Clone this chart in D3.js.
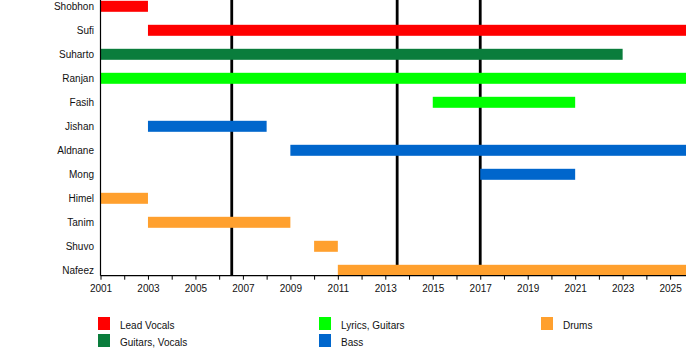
<!DOCTYPE html>
<html><head><meta charset="utf-8">
<script src="https://cdn.jsdelivr.net/npm/d3@7"></script>
<style>body{margin:0;background:#fff}svg{display:block;font-family:"Liberation Sans",Arial,sans-serif}</style>
</head><body><svg id="c" width="700" height="355"></svg>
<script>
const members = ["Shobhon","Sufi","Suharto","Ranjan","Fasih","Jishan","Aldnane","Mong","Himel","Tanim","Shuvo","Nafeez"];
const roles = ["Lead Vocals","Guitars, Vocals","Lyrics, Guitars","Bass","Drums"];
const roleColors = ["#ff0000","#0a7d3c","#00ff00","#0066cc","#ffa02e"];
const spans = [
  {member:"Shobhon", role:"Lead Vocals", start:2001, end:2003},
  {member:"Sufi", role:"Lead Vocals", start:2003, end:2025.67},
  {member:"Suharto", role:"Guitars, Vocals", start:2001, end:2023},
  {member:"Ranjan", role:"Lyrics, Guitars", start:2001, end:2025.67},
  {member:"Fasih", role:"Lyrics, Guitars", start:2015, end:2021},
  {member:"Jishan", role:"Bass", start:2003, end:2008},
  {member:"Aldnane", role:"Bass", start:2009, end:2025.67},
  {member:"Mong", role:"Bass", start:2017, end:2021},
  {member:"Himel", role:"Drums", start:2001, end:2003},
  {member:"Tanim", role:"Drums", start:2003, end:2009},
  {member:"Shuvo", role:"Drums", start:2010, end:2011},
  {member:"Nafeez", role:"Drums", start:2011, end:2025.67}
];
const events = [2006.53, 2013.5, 2017.0];
const tickYears = d3.range(2001, 2026);
const labelYears = d3.range(2001, 2026, 2);

const svg = d3.select("#c");
const x = d3.scaleLinear().domain([2001, 2025.67]).range([100.5, 686]);
const y = d3.scalePoint().domain(members).range([6.3, 270.3]);
const color = d3.scaleOrdinal().domain(roles).range(roleColors);
const barH = 11;
const axisY = 275.7;

// event lines (under bars)
svg.append("g").selectAll("line").data(events).join("line")
  .attr("x1", d => x(d)).attr("x2", d => x(d))
  .attr("y1", 0).attr("y2", axisY)
  .attr("stroke", "#000").attr("stroke-width", 2.8);

// bars
svg.append("g").selectAll("rect").data(spans).join("rect")
  .attr("x", d => x(d.start))
  .attr("y", d => y(d.member) - barH/2)
  .attr("width", d => x(d.end) - x(d.start))
  .attr("height", barH)
  .attr("fill", d => color(d.role));

// left axis line
svg.append("line").attr("x1", 100.5).attr("x2", 100.5).attr("y1", 0).attr("y2", axisY)
  .attr("stroke", "#000").attr("stroke-width", 1.2);

// member labels
svg.append("g").selectAll("text").data(members).join("text")
  .attr("x", 94).attr("y", d => y(d)).attr("dy", "0.35em")
  .attr("text-anchor", "end").attr("font-size", 10).attr("fill", "#111")
  .text(d => d);

// bottom axis
const xAxis = d3.axisBottom(x).tickValues(tickYears).tickSize(4).tickPadding(5)
  .tickFormat(d => labelYears.includes(d) ? String(d) : "");
const ax = svg.append("g").attr("transform", `translate(0,${axisY})`).call(xAxis);
ax.select(".domain").attr("d", `M100.5,0H686`).attr("stroke", "#000").attr("stroke-width", 1.2);
ax.selectAll(".tick line").attr("stroke", "#000");
ax.selectAll(".tick text").attr("font-size", 10).attr("fill", "#111")
  .attr("font-family", "'Liberation Sans',Arial,sans-serif");

// legend
const legendPos = [[98,317],[98,334],[319,317],[319,334],[541,317]];
const lg = svg.append("g").selectAll("g").data(roles).join("g")
  .attr("transform", (d,i) => `translate(${legendPos[i][0]},${legendPos[i][1]})`);
lg.append("rect").attr("width", 12).attr("height", 13).attr("fill", d => color(d));
lg.append("text").attr("x", 22).attr("y", 8).attr("dy", "0.35em")
  .attr("font-size", 10).attr("fill", "#111").text(d => d);
</script></body></html>
